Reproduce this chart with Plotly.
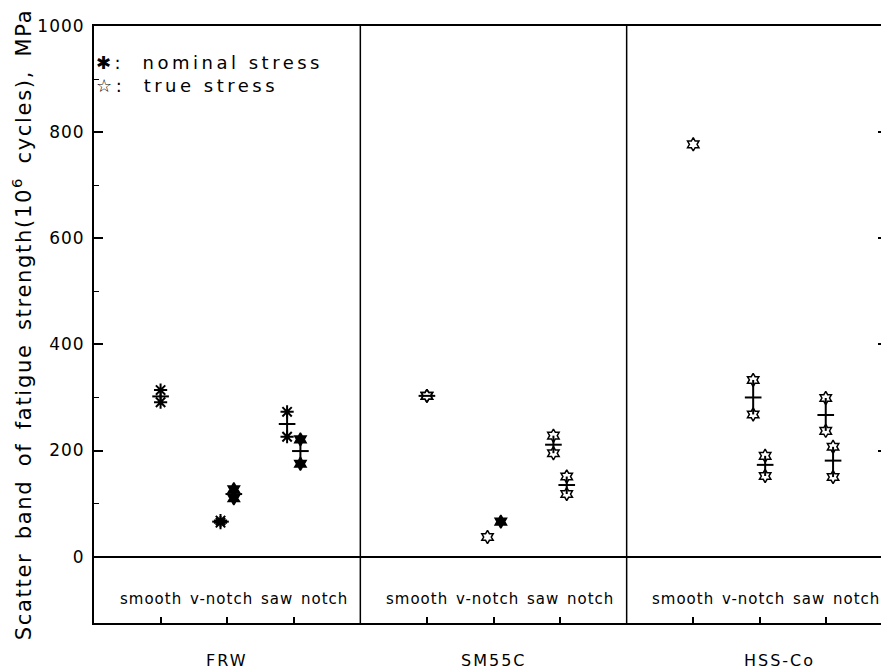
import plotly.graph_objects as go

# ---------------- data ----------------
materials = ["FRW", "SM55C", "HSS-Co"]
categories = ["smooth", "v-notch", "saw notch"]

# scatter bands: material index, category index, small side shift, min, max, mean, marker kind
band_material = [0, 0, 0, 0, 0, 1, 1, 1, 2, 2, 2, 2]
band_category = [0, 1, 1, 2, 2, 0, 2, 2, 1, 1, 2, 2]
band_shift = [0.0, -0.1, 0.1, -0.1, 0.1, 0.0, -0.1, 0.1, -0.1, 0.08, -0.01, 0.1]
band_low = [291, 64, 110, 226, 175, 303, 195, 118, 268, 152, 237, 150]
band_high = [314, 68, 127, 273, 221, 303, 228, 151, 333, 190, 299, 207]
band_mean = [302, 66, 118, 250, 199, 303, 211, 135, 300, 173, 267, 181]
band_kind = ["nominal", "nominal", "true_solid", "nominal", "true_solid",
             "true", "true", "true", "true", "true", "true", "true"]

# single measured points (no band)
point_material = [1, 1, 2]
point_category = [1, 1, 0]
point_shift = [-0.09, 0.11, 0.0]
point_value = [37, 66, 777]
point_kind = ["true", "true_solid", "true"]

y_ticks = [0, 200, 400, 600, 800, 1000]
y_minor = [100, 300, 500, 700, 900]
y_range = [-125, 1000]

# ---------------- helpers ----------------
slot = len(categories) + 1


def xpos(m, c, s):
    return m * slot + c + 1 + s


FONT = "DejaVu Sans"
NB = "\u00a0"
sym = {
    "nominal": dict(symbol="asterisk-open", size=11, color="black",
                    line=dict(color="black", width=2)),
    "true": dict(symbol="hexagram-open", size=10, color="black",
                 line=dict(color="black", width=1.5)),
    "true_solid": dict(symbol="hexagram", size=10, color="black",
                       line=dict(color="black", width=1.5)),
}

fig = go.Figure()

# vertical band + mean bar
bx = [xpos(m, c, s) for m, c, s in zip(band_material, band_category, band_shift)]
fig.add_trace(go.Scatter(
    x=bx, y=band_mean, mode="markers",
    marker=dict(size=1, color="rgba(0,0,0,0)"),
    error_y=dict(type="data", symmetric=False,
                 array=[h - m for h, m in zip(band_high, band_mean)],
                 arrayminus=[m - l for m, l in zip(band_mean, band_low)],
                 width=0, thickness=2, color="black"),
    error_x=dict(type="constant", value=0.125, width=0, thickness=2, color="black"),
    showlegend=False, hoverinfo="skip"))

# band end markers and single points
for kind in sym:
    xs, ys = [], []
    for x, lo, hi, k in zip(bx, band_low, band_high, band_kind):
        if k == kind:
            xs += [x, x]
            ys += [lo, hi]
    for m, c, s, v, k in zip(point_material, point_category, point_shift,
                             point_value, point_kind):
        if k == kind:
            xs.append(xpos(m, c, s))
            ys.append(v)
    fig.add_trace(go.Scatter(x=xs, y=ys, mode="markers", marker=sym[kind],
                             showlegend=False))

# panel dividers
for i in range(1, len(materials)):
    fig.add_shape(type="line", xref="x", yref="y", x0=i * slot, x1=i * slot,
                  y0=y_range[0], y1=y_range[1], line=dict(color="black", width=1.5))

ann = []
# category labels inside each panel
for i in range(len(materials)):
    ann.append(dict(x=i * slot + 2.1, y=-80, xref="x", yref="y",
                    text='<span style="letter-spacing:1px;word-spacing:2px">' + " ".join(categories) + "</span>",
                    showarrow=False, font=dict(family=FONT, size=15, color="black")))
# material labels below
label_shift = [0, 0, 0.3]
for i, mname in enumerate(materials):
    ann.append(dict(x=i * slot + 2 + label_shift[i], y=-0.062, xref="x", yref="paper",
                    yanchor="middle",
                    text=f'<span style="letter-spacing:2px">{mname}</span>',
                    showarrow=False, font=dict(family=FONT, size=16, color="black")))
# legend text (one block, two lines)
legend_lines = [f"✱:{NB}{NB}nominal stress", f"<b>☆</b>:{NB}{NB}true stress"]
ann.append(dict(x=0.0, y=0.92, xref="paper", yref="paper", xanchor="left", yanchor="middle",
                align="left",
                text='<span style="letter-spacing:3.5px">' + "<br>".join(legend_lines) + "</span>",
                showarrow=False, font=dict(family=FONT, size=18, color="black")))

fig.update_layout(
    width=889, height=671,
    margin=dict(l=80, r=8, t=18, b=56),
    plot_bgcolor="white", paper_bgcolor="white",
    annotations=ann,
    font=dict(family=FONT, color="black"),
    xaxis=dict(range=[0, len(materials) * slot - 0.09],
               tickvals=[xpos(m, c, 0) for m in range(len(materials)) for c in range(len(categories))],
               showticklabels=False, ticks="inside", ticklen=6, tickwidth=1.5,
               tickcolor="black", showline=True, linecolor="black", linewidth=2,
               mirror=True, showgrid=False, zeroline=False),
    yaxis=dict(range=y_range, tickvals=y_ticks,
               ticktext=[f'<span style="letter-spacing:1px">{v}</span>' for v in y_ticks],
               ticks="inside", ticklen=9, tickwidth=1.5, tickcolor="black",
               minor=dict(tickvals=y_minor, ticks="inside", ticklen=5, tickwidth=1.2,
                          tickcolor="black"),
               showline=True, linecolor="black", linewidth=2, mirror="ticks",
               showgrid=False, zeroline=True, zerolinecolor="black", zerolinewidth=2,
               tickfont=dict(family=FONT, size=17, color="black"),
               ticklabelstandoff=4,
               title=dict(text='<span style="letter-spacing:1.7px;word-spacing:5px">Scatter band of fatigue strength(10<sup>6</sup> cycles), MPa</span>',
                          font=dict(family=FONT, size=21, color="black"), standoff=7)),
)

fig.write_html("out.html")
